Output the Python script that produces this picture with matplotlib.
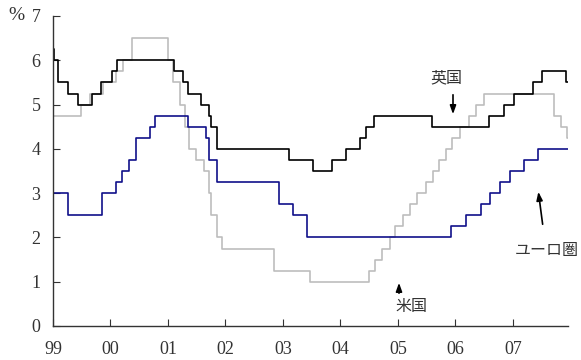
import matplotlib
matplotlib.use("Agg")
import matplotlib.pyplot as plt
import numpy as np
from datetime import date

# ---- data: policy rates (change dates, new rate) ----
uk_dates = ["1999-01-01","1999-01-07","1999-02-04","1999-04-08","1999-06-10","1999-09-08","1999-11-04",
            "2000-01-13","2000-02-10","2001-02-08","2001-04-05","2001-05-10","2001-08-02","2001-09-18",
            "2001-10-04","2001-11-08","2003-02-06","2003-07-10","2003-11-06","2004-02-05","2004-05-06",
            "2004-06-10","2004-08-05","2005-08-04","2006-08-03","2006-11-09","2007-01-11","2007-05-10",
            "2007-07-05","2007-12-06"]
uk_rates = [6.25,6.0,5.5,5.25,5.0,5.25,5.5,5.75,6.0,5.75,5.5,5.25,5.0,4.75,4.5,4.0,3.75,3.5,3.75,4.0,
            4.25,4.5,4.75,4.5,4.75,5.0,5.25,5.5,5.75,5.5]

us_dates = ["1999-01-01","1999-06-30","1999-08-24","1999-11-16","2000-02-02","2000-03-21","2000-05-16",
            "2001-01-03","2001-01-31","2001-03-20","2001-04-18","2001-05-15","2001-06-27","2001-08-21",
            "2001-09-17","2001-10-02","2001-11-06","2001-12-11","2002-11-06","2003-06-25","2004-06-30",
            "2004-08-10","2004-09-21","2004-11-10","2004-12-14","2005-02-02","2005-03-22","2005-05-03",
            "2005-06-30","2005-08-09","2005-09-20","2005-11-01","2005-12-13","2006-01-31","2006-03-28",
            "2006-05-10","2006-06-29","2007-09-18","2007-10-31","2007-12-11"]
us_rates = [4.75,5.0,5.25,5.5,5.75,6.0,6.5,6.0,5.5,5.0,4.5,4.0,3.75,3.5,3.0,2.5,2.0,1.75,1.25,1.0,
            1.25,1.5,1.75,2.0,2.25,2.5,2.75,3.0,3.25,3.5,3.75,4.0,4.25,4.5,4.75,5.0,5.25,4.75,4.5,4.25]

ez_dates = ["1999-01-01","1999-04-09","1999-11-05","2000-02-04","2000-03-17","2000-04-28","2000-06-09",
            "2000-09-06","2000-10-11","2001-05-11","2001-08-31","2001-09-18","2001-11-09","2002-12-06",
            "2003-03-07","2003-06-06","2005-12-06","2006-03-08","2006-06-15","2006-08-09","2006-10-11",
            "2006-12-13","2007-03-14","2007-06-13"]
ez_rates = [3.0,2.5,3.0,3.25,3.5,3.75,4.25,4.5,4.75,4.5,4.25,3.75,3.25,2.75,2.5,2.0,2.25,2.5,2.75,3.0,
            3.25,3.5,3.75,4.0]

year_ticks = [1999, 2000, 2001, 2002, 2003, 2004, 2005, 2006, 2007]
year_labels = ["99", "00", "01", "02", "03", "04", "05", "06", "07"]
END = 2007.96

def frac(s):
    d = date.fromisoformat(s)
    start = date(d.year, 1, 1)
    n = (date(d.year + 1, 1, 1) - start).days
    return d.year + (d - start).days / n

def series(ds, vs):
    x = [frac(s) for s in ds] + [END]
    y = list(vs) + [vs[-1]]
    return x, y

serif = ["Liberation Serif", "DejaVu Serif"]
jp = ["Noto Sans CJK JP", "DejaVu Sans"]

fig = plt.figure(figsize=(5.81, 3.6), dpi=100)
ax = fig.add_axes([53/581, 1-326/360, (568-53)/581, (326-16)/360])

for ds, vs, c, lw in [(us_dates, us_rates, "#bdbdbd", 1.2),
                      (ez_dates, ez_rates, "#10108a", 1.2),
                      (uk_dates, uk_rates, "#000000", 1.2)]:
    x, y = series(ds, vs)
    ax.step(x, y, where="post", color=c, lw=lw)

ax.set_xlim(1999, END)
ax.set_ylim(0, 7)
ax.set_xticks(year_ticks)
ax.set_xticklabels(year_labels, fontfamily=serif, fontsize=13, color="#333333")
ax.set_yticks(range(0, 8))
ax.set_yticklabels([str(i) for i in range(0, 8)], fontfamily=serif, fontsize=13, color="#333333")
ax.tick_params(axis="x", direction="in", length=5, pad=11, color="#333333")
ax.tick_params(axis="y", direction="in", length=5, pad=9, color="#333333")
for s in ["top", "right"]:
    ax.spines[s].set_visible(False)
for s in ["left", "bottom"]:
    ax.spines[s].set_color("#333333")
    ax.spines[s].set_linewidth(1.0)

fig.text(16/581, 1-16/360, "%", fontfamily=serif, fontsize=14, ha="center", va="center", color="#333333")

def px(xp, yp):
    return (xp/581, 1-yp/360)

# annotations
fig.text(*px(446, 78), "英国", fontfamily=jp, fontsize=11.5, ha="center", va="center", color="#333333")
ax.annotate("", xy=px(453, 117), xytext=px(453, 92), xycoords="figure fraction", textcoords="figure fraction",
            arrowprops=dict(arrowstyle="-|>,head_length=0.5,head_width=0.18", color="black", lw=1.2))
fig.text(*px(411, 306), "米国", fontfamily=jp, fontsize=11.5, ha="center", va="center", color="#333333")
ax.annotate("", xy=px(399, 280), xytext=px(399, 296), xycoords="figure fraction", textcoords="figure fraction",
            arrowprops=dict(arrowstyle="-|>,head_length=0.5,head_width=0.18", color="black", lw=1.2))
fig.text(*px(547, 250), "ユーロ圏", fontfamily=jp, fontsize=11.5, ha="center", va="center", color="#333333")
ax.annotate("", xy=px(538, 189), xytext=px(543, 227), xycoords="figure fraction", textcoords="figure fraction",
            arrowprops=dict(arrowstyle="-|>,head_length=0.5,head_width=0.18", color="black", lw=1.2))

fig.savefig("out.png", dpi=100)
